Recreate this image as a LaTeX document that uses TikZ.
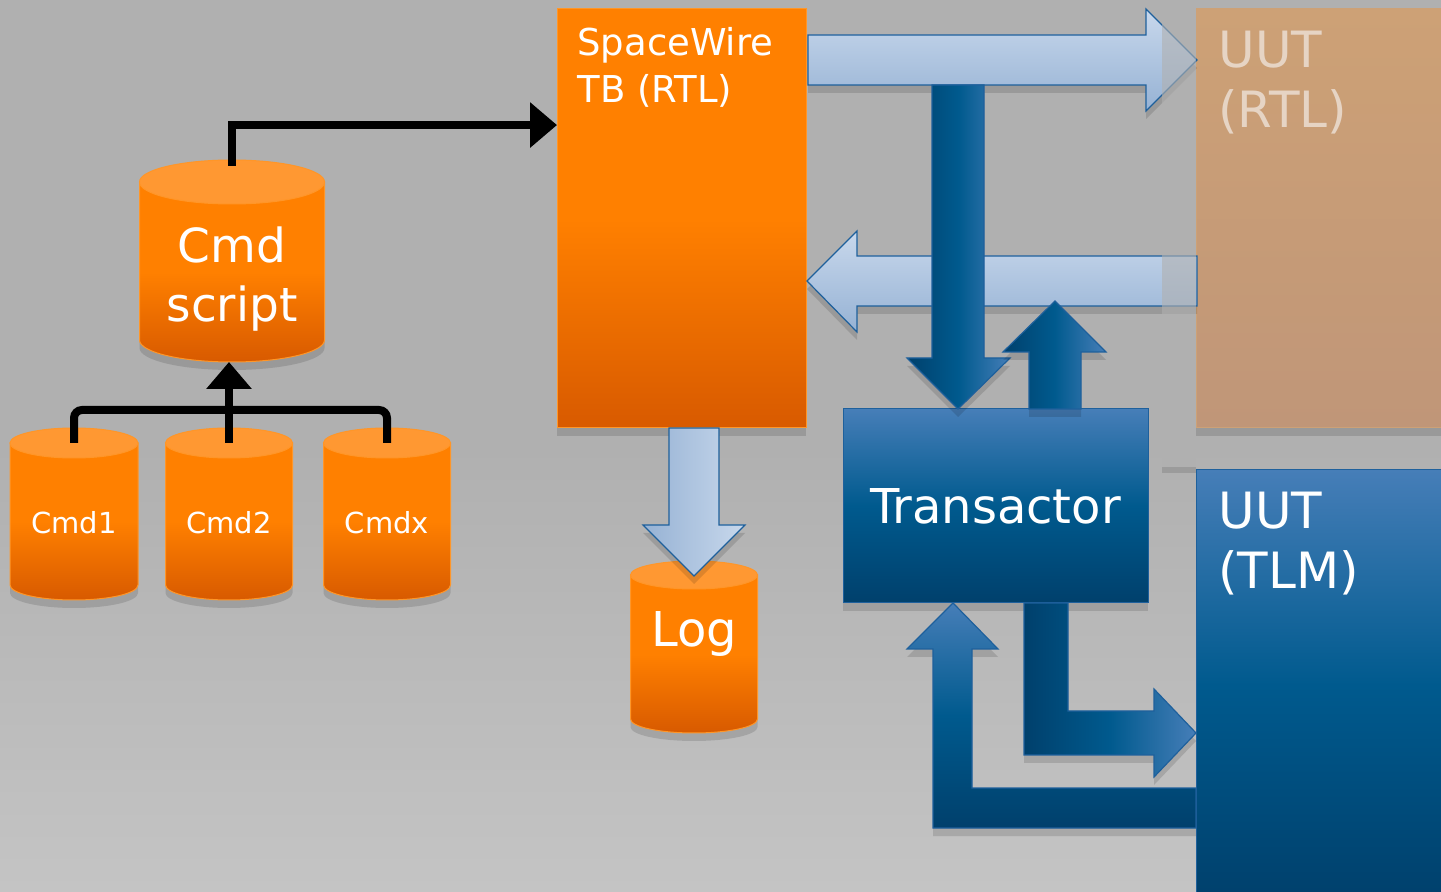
\documentclass[tikz,border=0pt]{standalone}
\usepackage{fontspec}
\setmainfont{DejaVu Sans}
\usetikzlibrary{arrows.meta,calc,positioning,shapes.geometric,shadows}
\definecolor{slidegray}{RGB}{176,176,176}
\definecolor{slidelight}{RGB}{196,196,196}
\definecolor{swbright}{RGB}{255,128,0}
\definecolor{swdeep}{RGB}{216,90,0}
\definecolor{swcap}{RGB}{255,152,50}
\definecolor{swedge}{RGB}{255,150,40}
\definecolor{rtltan}{RGB}{205,161,118}
\definecolor{rtltandeep}{RGB}{192,150,120}
\definecolor{rtlink}{RGB}{230,212,196}
\definecolor{tlmlight}{RGB}{70,126,184}
\definecolor{tlmmid}{RGB}{0,90,142}
\definecolor{tlmdeep}{RGB}{0,64,108}
\definecolor{tlmedge}{RGB}{30,96,156}
\definecolor{linkpale}{RGB}{200,216,236}
\definecolor{linkdim}{RGB}{150,178,212}

\begin{document}
\begin{tikzpicture}[x=0.5pt, y=0.5pt,
    shadowed/.style={drop shadow={shadow xshift=0pt, shadow yshift=-4pt, fill=black, opacity=0.13}},
    block/.style={rectangle, anchor=north west, inner sep=0pt, outer sep=0pt, line width=0.5pt, shadowed},
    orangeblock/.style={block, draw=swedge, top color=swbright, bottom color=swdeep, middle color=swbright},
    tanblock/.style={block, draw=rtltan, top color=rtltan, bottom color=rtltandeep},
    blueblock/.style={block, draw=tlmedge, top color=tlmlight, bottom color=tlmdeep, middle color=tlmmid},
    dbslot/.style={rectangle, anchor=north, inner sep=0pt, outer sep=0pt},
    dbbody/.style={draw=swedge, line width=0.5pt, top color=swbright, bottom color=swdeep, middle color=swbright, shadowed},
    dbtext/.style={text=white, align=center, inner sep=0pt},
    title/.style={anchor=north west, inner sep=0pt, align=left},
    wire/.style={line width=4pt, black},
    wirehead/.style={-{Triangle[length=13.5pt, width=22pt]}},
    pipe/.style={draw=tlmedge, line width=0.6pt, line join=miter, shadowed},
    palepipe/.style={pipe, top color=linkpale, bottom color=linkdim},
    deeppipe/.style={pipe, left color=tlmdeep, right color=tlmlight, middle color=tlmmid},
  ]
  \useasboundingbox (0,0) rectangle (1441,-892);
  \shade[top color=slidegray, bottom color=slidelight, middle color=slidegray] (0,0) rectangle (1441,-892);

  % boxes
  \node[orangeblock, minimum width=124.5pt, minimum height=209.5pt] (tb) at (557,-9) {};
  \node[tanblock, minimum width=130pt, minimum height=209.5pt] (rtl) at (1196,-9) {};
  \node[blueblock, minimum width=152.5pt, minimum height=97pt, text=white,
    font=\fontsize{24}{28}\selectfont] (xact) at (843,-409) {Transactor};
  \node[blueblock, minimum width=130pt, minimum height=215pt] (tlm) at (1196,-470) {};

  \node[title, text=white, font=\fontsize{18.5}{23.5}\selectfont] (tbname)
    at ([shift={(20,-18)}]tb.north west) {SpaceWire\\TB (RTL)};
  \node[title, text=rtlink, font=\fontsize{25}{30}\selectfont] (rtlname)
    at ([shift={(22,-22)}]rtl.north west) {UUT\\(RTL)};
  \node[title, text=white, font=\fontsize{25}{30}\selectfont] (tlmname)
    at ([shift={(22,-22)}]tlm.north west) {UUT\\(TLM)};

  % pale links, RTL side
  \draw[palepipe] (808,-35) -- (1146,-35) -- (1146,-9) -- (1197,-60) -- (1146,-111) -- (1146,-85) -- (808,-85) -- cycle;
  \draw[palepipe] (1197,-256) -- (857,-256) -- (857,-231) -- (807,-281) -- (857,-332) -- (857,-306) -- (1197,-306) -- cycle;

  % transactor links
  \draw[deeppipe] (932,-85) -- (984,-85) -- (984,-358) -- (1010,-358) -- (958,-409) -- (907,-358) -- (932,-358) -- cycle;
  \draw[deeppipe] (1029,-409) -- (1029,-352) -- (1003,-352) -- (1055,-301) -- (1106,-352) -- (1081,-352) -- (1081,-409) -- cycle;
  \draw[pipe, top color=tlmlight, bottom color=tlmdeep, middle color=tlmmid]
    (1196,-788) -- (972,-788) -- (972,-649) -- (998,-649) -- (953,-603) -- (907,-649) -- (933,-649) -- (933,-828) -- (1196,-828) -- cycle;
  \draw[deeppipe]
    (1024,-603) -- (1068,-603) -- (1068,-711) -- (1154,-711) -- (1154,-689) -- (1196,-733) -- (1154,-777) -- (1154,-755) -- (1024,-755) -- cycle;

  % command files and log: slot = body between the two cap centres
  \node[dbslot, minimum width=92.5pt, minimum height=79pt] (script) at (232,-182) {};
  \node[dbslot, minimum width=64pt, minimum height=71pt] (cmda) at (74,-443) {};
  \node[dbslot, minimum width=63.5pt, minimum height=71pt] (cmdb) at (229,-443) {};
  \node[dbslot, minimum width=63.5pt, minimum height=71pt] (cmdx) at (387,-443) {};
  \node[dbslot, minimum width=63.5pt, minimum height=72pt] (log) at (694,-575) {};

  \foreach \db/\ry in {script/11pt,cmda/7.5pt,cmdb/7.5pt,cmdx/7.5pt,log/7pt}{
    \path[dbbody] let \p1=(\db.north west), \p2=(\db.north east) in
      (\db.north west) -- (\db.south west)
      arc[start angle=180, end angle=360, x radius={(\x2-\x1)/2}, y radius=\ry]
      -- (\db.north east) -- cycle;
    \path[fill=swcap, draw=swedge, line width=0.5pt] let \p1=(\db.north west), \p2=(\db.north east) in
      (\db.north) ellipse [x radius={(\x2-\x1)/2}, y radius=\ry];
  }

  \node[dbtext, font=\fontsize{23.5}{29.5}\selectfont] (scripttext) at ([yshift=-9pt]script.center) {Cmd\\script};
  \node[dbtext, font=\fontsize{14.5}{17}\selectfont] (cmdatext) at ([yshift=-4.5pt]cmda.center) {Cmd1};
  \node[dbtext, font=\fontsize{14.5}{17}\selectfont] (cmdbtext) at ([yshift=-4.5pt]cmdb.center) {Cmd2};
  \node[dbtext, font=\fontsize{14.5}{17}\selectfont] (cmdxtext) at ([yshift=-4.5pt]cmdx.center) {Cmdx};
  \node[dbtext, font=\fontsize{24}{28}\selectfont] (logtext) at ([yshift=6.5pt]log.center) {Log};

  % log link
  \draw[pipe, left color=linkdim, right color=linkpale]
    (669,-428) -- (719,-428) -- (719,-525) -- (745,-525) -- (694,-576) -- (643,-525) -- (669,-525) -- cycle;

  % command wiring
  \draw[wire, wirehead] ([yshift=8pt]script.north) |- ($(tb.north west)!0.277!(tb.south west)$);
  \draw[wire, rounded corners=4pt] (cmda.north) -- ++(0,33) -| (cmdx.north);
  \draw[wire, wirehead] (cmdb.north) -- ($(cmdb.north |- script.south)+(0,-22)$);

  % faded strip in front of the UUT (RTL) edge
  \fill[slidegray, opacity=0.6] (1162,0) rectangle (1196,-467);
  \fill[black, opacity=0.12] (1162,-467) rectangle (1196,-473);
\end{tikzpicture}
\end{document}
